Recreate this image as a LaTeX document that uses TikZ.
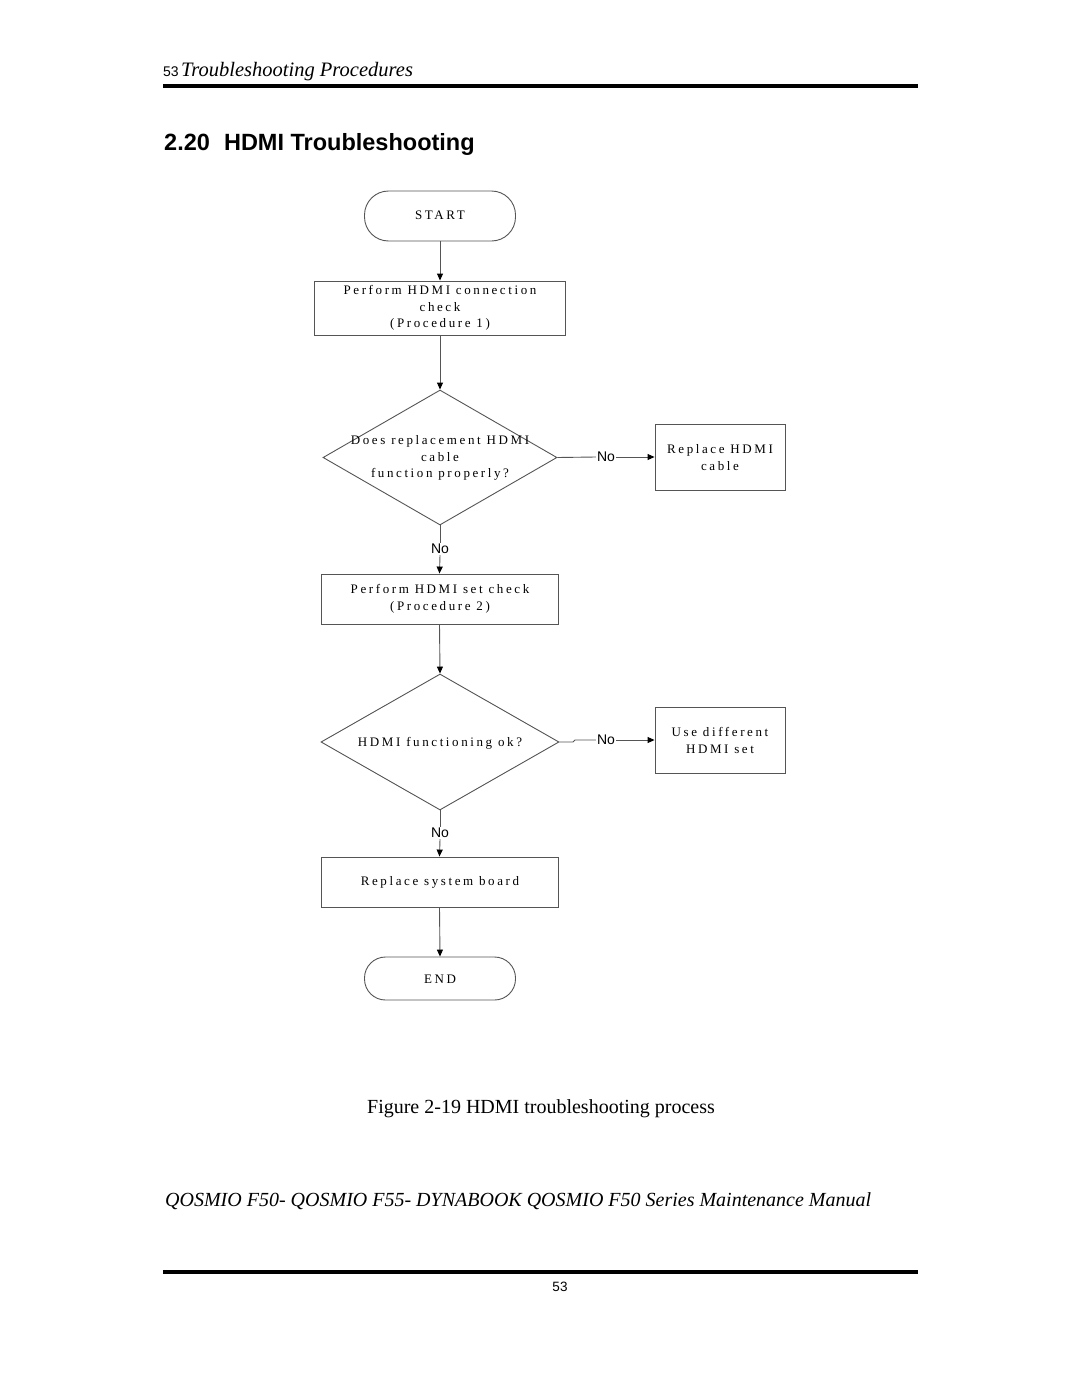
\documentclass[tikz,border=0pt]{standalone}
\usepackage{fontspec}
\setmainfont{Liberation Serif}
\setsansfont{Liberation Sans}
\newfontfamily\spacedserif[LetterSpace=20]{Liberation Serif}
\usetikzlibrary{shapes.geometric,arrows.meta}
\definecolor{linegray}{HTML}{555555}
\tikzset{
  flowline/.style={draw=linegray, line width=0.9pt},
  arr/.style={flowline, -{Triangle[length=7pt,width=6pt,color=black]}},
  boxnode/.style={draw=linegray, line width=0.9pt, rectangle, inner sep=0pt},
  termnode/.style={draw=linegray, line width=0.9pt, rectangle, rounded corners=24pt, inner sep=0pt, minimum width=151pt},
  decnode/.style={draw=linegray, line width=0.9pt, diamond, inner sep=0pt},
  flowtext/.style={font=\spacedserif\fontsize{13}{16.5}\selectfont, align=center, inner sep=0pt},
  nolabel/.style={font=\sffamily\fontsize{14}{16}\selectfont, inner sep=1pt, fill=white},
  rulebar/.style={line width=4pt, black}
}
\begin{document}
\begin{tikzpicture}[x=1pt,y=-1pt]
\useasboundingbox[fill=white] (0,0) rectangle (1080,1397);

% header
\node[anchor=base west, inner sep=0pt, font=\sffamily\fontsize{14}{16}\selectfont] (pgnum) at (163,77) {53};
\node[anchor=base west, inner sep=0pt, font=\itshape\fontsize{20.5}{24}\selectfont] (hdr) at (181,77) {Troubleshooting Procedures};
\coordinate (rtl) at (163,86);
\coordinate (rtr) at (918,86);
\draw[rulebar] (rtl) -- (rtr);

% title
\node[anchor=base west, inner sep=0pt, font=\sffamily\bfseries\fontsize{23.5}{28}\selectfont] (title) at (164,150) {2.20\hspace{0.6em}HDMI Troubleshooting};

% flowchart nodes
\node[termnode, minimum height=50pt] (start) at (440,216) {};
\node[flowtext] (starttxt) at (440,215) {START};

\node[boxnode, minimum width=251pt, minimum height=54pt] (b1) at (440,308) {};
\node[flowtext] (b1txt) at (440,308) {Perform HDMI connection\\check\\(Procedure 1)};

\node[decnode, minimum width=234pt, minimum height=135pt] (d1) at (440,457.5) {};
\node[flowtext] (d1txt) at (440,458) {Does replacement HDMI\\cable\\function properly?};

\node[boxnode, minimum width=130pt, minimum height=66pt] (r1) at (720,457) {};
\node[flowtext] (r1txt) at (720,457.5) {Replace HDMI\\cable};

\node[boxnode, minimum width=237pt, minimum height=50pt] (b2) at (439.5,599) {};
\node[flowtext] (b2txt) at (440,599) {Perform HDMI set check\\(Procedure 2)};

\node[decnode, minimum width=238pt, minimum height=136pt] (d2) at (440,742) {};
\node[flowtext] (d2txt) at (440,743) {HDMI functioning ok?};

\node[boxnode, minimum width=130pt, minimum height=66pt] (r2) at (720,740) {};
\node[flowtext] (r2txt) at (720,740.5) {Use different\\HDMI set};

\node[boxnode, minimum width=237pt, minimum height=50pt] (b3) at (439.5,882) {};
\node[flowtext] (b3txt) at (440,882) {Replace system board};

\node[termnode, minimum height=43pt, rounded corners=21pt] (end) at (440,978.5) {};
\node[flowtext] (endtxt) at (440,979) {END};

% labels on connectors
\node[nolabel] (no1) at (606,457) {No};
\node[nolabel] (no2) at (440,549) {No};
\node[nolabel] (no3) at (606,740) {No};
\node[nolabel] (no4) at (440,833) {No};

% connectors
\draw[arr] (start.south) -- (b1.north);
\draw[arr] (b1.south) -- (d1.north);
\draw[flowline] (d1.east) -- (no1.west);
\draw[arr] (no1.east) -- (r1.west |- no1.east);
\draw[flowline] (d1.south) -- (no2.north);
\draw[arr] (no2.south) -- (b2.north);
\draw[arr] (b2.south) -- (d2.north);
\coordinate (j1) at (573,742);
\coordinate (j2) at (575,740);
\draw[flowline] (d2.east) -- (j1) -- (j2) -- (no3.west);
\draw[arr] (no3.east) -- (r2.west |- no3.east);
\draw[flowline] (d2.south) -- (no4.north);
\draw[arr] (no4.south) -- (b3.north);
\draw[arr] (b3.south) -- (end.north);

% caption and footer
\node[anchor=base, inner sep=0pt, font=\fontsize{20}{24}\selectfont] (caption) at (541,1113) {Figure 2-19 HDMI troubleshooting process};
\node[anchor=base west, inner sep=0pt, font=\itshape\fontsize{20}{24}\selectfont] (footer) at (165,1206) {QOSMIO F50- QOSMIO F55- DYNABOOK QOSMIO F50 Series Maintenance Manual};
\coordinate (rbl) at (163,1272);
\coordinate (rbr) at (918,1272);
\draw[rulebar] (rbl) -- (rbr);
\node[anchor=base, inner sep=0pt, font=\sffamily\fontsize{13.5}{16}\selectfont] (pgbot) at (560,1291) {53};
\end{tikzpicture}
\end{document}
